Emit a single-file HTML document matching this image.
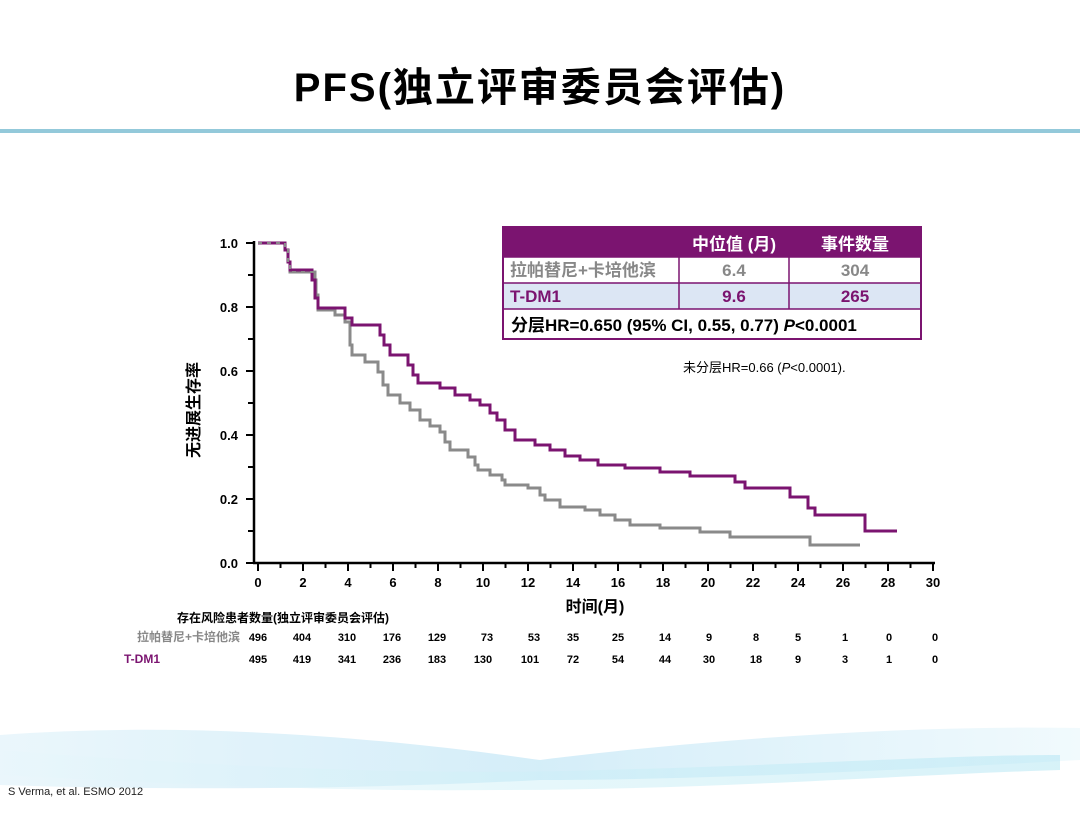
<!DOCTYPE html>
<html><head><meta charset="utf-8"><style>
body{margin:0;width:1080px;height:810px;background:#fff;overflow:hidden;font-family:"Liberation Sans","Noto Sans CJK SC",sans-serif;}
</style></head><body>
<svg width="1080" height="810" xmlns="http://www.w3.org/2000/svg" font-family="Liberation Sans, Noto Sans CJK SC, sans-serif">
<defs>
<linearGradient id="w1" x1="0" x2="1"><stop offset="0" stop-color="#d6eef8"/><stop offset="0.5" stop-color="#aadcf2"/><stop offset="1" stop-color="#e3f5fb"/></linearGradient>
<linearGradient id="w2" x1="0" x2="1"><stop offset="0" stop-color="#e8f6fb"/><stop offset="0.6" stop-color="#c8eef6"/><stop offset="1" stop-color="#aee4f2"/></linearGradient>
</defs>
<path d="M0,735 C200,720 400,740 540,760 C700,740 900,725 1080,728 L1080,760 C900,770 700,780 540,780 C350,790 150,790 0,785 Z" fill="url(#w1)" opacity="0.5"/>
<path d="M0,750 C250,770 450,775 600,770 C800,765 950,755 1060,755 L1060,770 C900,775 700,790 500,790 C300,792 100,780 0,775 Z" fill="url(#w2)" opacity="0.5"/>
<text x="8" y="795" font-size="11" fill="#222">S Verma, et al. ESMO 2012</text>
<text x="540" y="101" font-size="40" font-weight="bold" text-anchor="middle" fill="#000" letter-spacing="2">PFS(独立评审委员会评估)</text>
<rect x="0" y="129" width="1080" height="4" fill="#93c9da"/>
<g stroke="#000" stroke-width="2.5" fill="none">
<line x1="254" y1="241" x2="254" y2="564"/>
<line x1="253" y1="563" x2="935" y2="563"/>
</g>
<g stroke="#000" stroke-width="2">
<line x1="246" y1="243" x2="254" y2="243"/><line x1="248" y1="275" x2="254" y2="275"/>
<line x1="246" y1="307" x2="254" y2="307"/><line x1="248" y1="339" x2="254" y2="339"/>
<line x1="246" y1="371" x2="254" y2="371"/><line x1="248" y1="403" x2="254" y2="403"/>
<line x1="246" y1="435" x2="254" y2="435"/><line x1="248" y1="467" x2="254" y2="467"/>
<line x1="246" y1="499" x2="254" y2="499"/><line x1="248" y1="531" x2="254" y2="531"/>
<line x1="246" y1="563" x2="254" y2="563"/>
</g>
<g stroke="#000" stroke-width="2">
<line x1="258" y1="563" x2="258" y2="571"/><line x1="280.5" y1="563" x2="280.5" y2="568"/>
<line x1="303" y1="563" x2="303" y2="571"/><line x1="325.5" y1="563" x2="325.5" y2="568"/>
<line x1="348" y1="563" x2="348" y2="571"/><line x1="370.5" y1="563" x2="370.5" y2="568"/>
<line x1="393" y1="563" x2="393" y2="571"/><line x1="415.5" y1="563" x2="415.5" y2="568"/>
<line x1="438" y1="563" x2="438" y2="571"/><line x1="460.5" y1="563" x2="460.5" y2="568"/>
<line x1="483" y1="563" x2="483" y2="571"/><line x1="505.5" y1="563" x2="505.5" y2="568"/>
<line x1="528" y1="563" x2="528" y2="571"/><line x1="550.5" y1="563" x2="550.5" y2="568"/>
<line x1="573" y1="563" x2="573" y2="571"/><line x1="595.5" y1="563" x2="595.5" y2="568"/>
<line x1="618" y1="563" x2="618" y2="571"/><line x1="640.5" y1="563" x2="640.5" y2="568"/>
<line x1="663" y1="563" x2="663" y2="571"/><line x1="685.5" y1="563" x2="685.5" y2="568"/>
<line x1="708" y1="563" x2="708" y2="571"/><line x1="730.5" y1="563" x2="730.5" y2="568"/>
<line x1="753" y1="563" x2="753" y2="571"/><line x1="775.5" y1="563" x2="775.5" y2="568"/>
<line x1="798" y1="563" x2="798" y2="571"/><line x1="820.5" y1="563" x2="820.5" y2="568"/>
<line x1="843" y1="563" x2="843" y2="571"/><line x1="865.5" y1="563" x2="865.5" y2="568"/>
<line x1="888" y1="563" x2="888" y2="571"/><line x1="910.5" y1="563" x2="910.5" y2="568"/>
<line x1="933" y1="563" x2="933" y2="571"/>
</g>
<g font-size="13" font-weight="bold" text-anchor="end" fill="#000">
<text x="238" y="248">1.0</text><text x="238" y="312">0.8</text><text x="238" y="376">0.6</text>
<text x="238" y="440">0.4</text><text x="238" y="504">0.2</text><text x="238" y="568">0.0</text>
</g>
<g font-size="13" font-weight="bold" text-anchor="middle" fill="#000">
<text x="258" y="587">0</text><text x="303" y="587">2</text><text x="348" y="587">4</text><text x="393" y="587">6</text>
<text x="438" y="587">8</text><text x="483" y="587">10</text><text x="528" y="587">12</text><text x="573" y="587">14</text>
<text x="618" y="587">16</text><text x="663" y="587">18</text><text x="708" y="587">20</text><text x="753" y="587">22</text>
<text x="798" y="587">24</text><text x="843" y="587">26</text><text x="888" y="587">28</text><text x="933" y="587">30</text>
</g>
<text x="595" y="612" font-size="16" font-weight="bold" text-anchor="middle">时间(月)</text>
<text transform="translate(199,410) rotate(-90)" font-size="16" font-weight="bold" text-anchor="middle">无进展生存率</text>
<path d="M258,243 H285 V250 H288 V262 H290 V272 H315 V280 H316 V295 H318 V310 H335 V315 H345 V322 H350 V345 H352 V355 H365 V362 H378 V372 H383 V385 H388 V395 H400 V403 H410 V410 H420 V420 H430 V426 H440 V432 H445 V442 H450 V450 H468 V457 H475 V465 H478 V470 H490 V475 H502 V480 H505 V485 H528 V488 H540 V495 H545 V500 H560 V507 H585 V510 H600 V515 H615 V520 H630 V525 H660 V528 H700 V532 H730 V537 H810 V545 H860" fill="none" stroke="#8a8a8a" stroke-width="3"/>
<path d="M258,243 H285 V250 H288 V262 H290 V270 H312 V280 H315 V298 H318 V308 H345 V318 H352 V325 H380 V335 H384 V345 H390 V355 H408 V365 H413 V375 H418 V383 H440 V388 H455 V395 H470 V400 H480 V405 H490 V413 H497 V420 H505 V430 H515 V440 H535 V445 H550 V450 H565 V456 H580 V460 H598 V465 H625 V468 H660 V472 H690 V476 H735 V482 H745 V488 H790 V497 H808 V508 H815 V515 H865 V531 H897" fill="none" stroke="#7b1470" stroke-width="3"/>
<path d="M258,243 H285 V250 H288 V262 H290 V272 H315" fill="none" stroke="#8a8a8a" stroke-width="2" stroke-dasharray="4 5"/>
<rect x="503" y="227" width="418" height="30" fill="#7b1470"/>
<rect x="503" y="283" width="418" height="26" fill="#dce6f4"/>
<rect x="503" y="227" width="418" height="112" fill="none" stroke="#7b1470" stroke-width="2"/>
<g stroke="#7b1470" stroke-width="1.5">
<line x1="503" y1="257" x2="921" y2="257"/><line x1="503" y1="283" x2="921" y2="283"/><line x1="503" y1="309" x2="921" y2="309"/>
<line x1="679" y1="257" x2="679" y2="309"/><line x1="789" y1="257" x2="789" y2="309"/>
</g>
<g font-size="17" font-weight="bold" text-anchor="middle">
<text x="734" y="250" fill="#fff">中位值 (月)</text><text x="855" y="250" fill="#fff">事件数量</text>
<text x="734" y="276" fill="#888">6.4</text><text x="855" y="276" fill="#888">304</text>
<text x="734" y="302" fill="#7b1470">9.6</text><text x="855" y="302" fill="#7b1470">265</text>
</g>
<text x="510" y="276" font-size="17" font-weight="bold" fill="#888">拉帕替尼+卡培他滨</text>
<text x="510" y="302" font-size="17" font-weight="bold" fill="#7b1470">T-DM1</text>
<text x="511" y="331" font-size="17" font-weight="bold" fill="#000">分层HR=0.650 (95% CI, 0.55, 0.77) <tspan font-style="italic">P</tspan>&lt;0.0001</text>
<text x="683" y="372" font-size="13" fill="#000">未分层HR=0.66 (<tspan font-style="italic">P</tspan>&lt;0.0001).</text>
<text x="177" y="622" font-size="12" font-weight="bold">存在风险患者数量(独立评审委员会评估)</text>
<text x="240" y="641" font-size="12" font-weight="bold" fill="#888" text-anchor="end">拉帕替尼+卡培他滨</text>
<text x="124" y="663" font-size="12" font-weight="bold" fill="#7b1470">T-DM1</text>
<g font-size="11" font-weight="bold" text-anchor="middle">
<text x="258" y="641">496</text><text x="302" y="641">404</text><text x="347" y="641">310</text><text x="392" y="641">176</text>
<text x="437" y="641">129</text><text x="487" y="641">73</text><text x="534" y="641">53</text><text x="573" y="641">35</text>
<text x="618" y="641">25</text><text x="665" y="641">14</text><text x="709" y="641">9</text><text x="756" y="641">8</text>
<text x="798" y="641">5</text><text x="845" y="641">1</text><text x="889" y="641">0</text><text x="935" y="641">0</text>
<text x="258" y="663">495</text><text x="302" y="663">419</text><text x="347" y="663">341</text><text x="392" y="663">236</text>
<text x="437" y="663">183</text><text x="483" y="663">130</text><text x="530" y="663">101</text><text x="573" y="663">72</text>
<text x="618" y="663">54</text><text x="665" y="663">44</text><text x="709" y="663">30</text><text x="756" y="663">18</text>
<text x="798" y="663">9</text><text x="845" y="663">3</text><text x="889" y="663">1</text><text x="935" y="663">0</text>
</g>
</svg>
</body></html>
